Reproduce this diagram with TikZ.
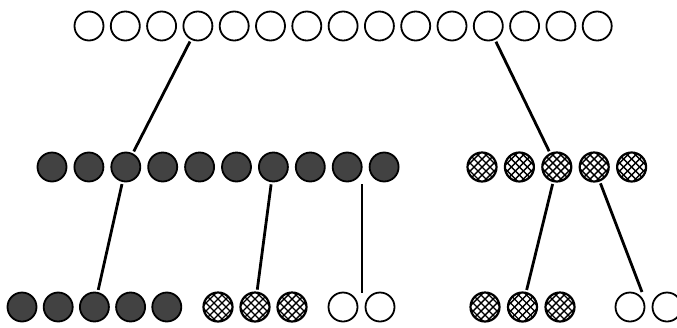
\documentclass[tikz,border=0pt]{standalone}
\usetikzlibrary{calc}
\begin{document}
\begin{tikzpicture}[x=1pt,y=-1pt,
  ball/.style={circle,draw=black,line width=1.8pt,minimum size=29pt,inner sep=0pt,outer sep=3pt},
  openball/.style={ball,fill=white},
  darkball/.style={ball,fill=black!74},
  hatchball/.style={ball,fill=white,line width=2.2pt,
    path picture={\foreach \k in {-40,-32,...,40}{
      \draw[line width=1.4pt] ([shift={({\k*1pt-20pt},-20pt)}]path picture bounding box.center) -- ++(40pt,40pt);
      \draw[line width=1.4pt] ([shift={({\k*1pt-20pt},20pt)}]path picture bounding box.center) -- ++(40pt,-40pt);}}},
  link/.style={line width=2.8pt}]
\useasboundingbox (0,0) rectangle (677,327);
\clip (0,0) rectangle (677,327);
% top row
\foreach \i in {0,...,14} \node[openball] (t\i) at ({89+36.3*\i},26) {};
% middle row
\foreach \i in {0,...,9} \node[darkball] (m\i) at ({52+36.9*\i},167) {};
\foreach \i in {0,...,4} \node[hatchball] (h\i) at ({482+37.4*\i},167) {};
% bottom row
\foreach \i in {0,...,4} \node[darkball] (bd\i) at ({22+36.2*\i},307) {};
\foreach \i in {0,...,2} \node[hatchball] (bh\i) at ({218+37*\i},307) {};
\node[openball] (bo0) at (343,307) {};
\node[openball] (bo1) at (380,307) {};
\foreach \i in {0,...,2} \node[hatchball] (bk\i) at ({485+37.5*\i},307) {};
\node[openball] (bq0) at (630,307) {};
\node[openball] (bq1) at (667,307) {};
% connectors
\coordinate (ga) at (362,184);
\coordinate (gb) at (362,293);
\coordinate (gc) at (642,292);
\draw[link] (t3) -- (m2);
\draw[link] (t11) -- (h2);
\draw[link] (m2) -- (bd2);
\draw[link] (m6) -- (bh1);
\draw[link] (ga) -- (gb);
\draw[link] (h2) -- (bk1);
\draw[link] (h3) -- (gc);
\end{tikzpicture}
\end{document}
